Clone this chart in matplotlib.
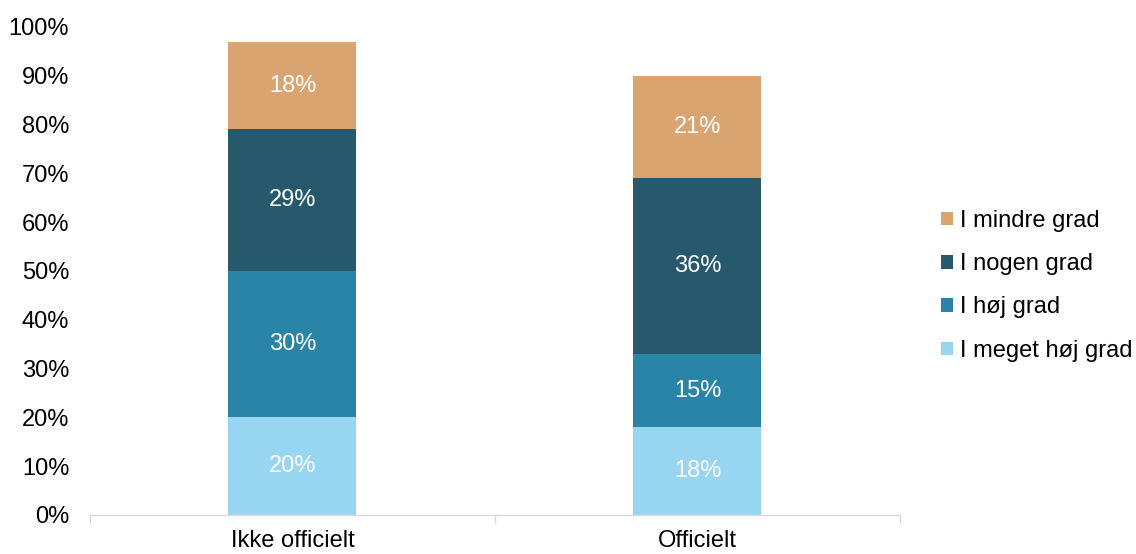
import numpy as np
import matplotlib.pyplot as plt
from matplotlib.patches import Patch

plt.rcParams['font.family'] = ['Liberation Sans', 'DejaVu Sans']

categories = ['Ikke officielt', 'Officielt']
series = ['I meget høj grad', 'I høj grad', 'I nogen grad', 'I mindre grad']
values = {
    'I meget høj grad': [20, 18],
    'I høj grad': [30, 15],
    'I nogen grad': [29, 36],
    'I mindre grad': [18, 21],
}
colors = {
    'I meget høj grad': '#97D5F0',
    'I høj grad': '#2A84A8',
    'I nogen grad': '#27596D',
    'I mindre grad': '#D9A470',
}
fs = 17

fig = plt.figure(figsize=(11.36, 5.54), dpi=100)
ax = fig.add_axes([0.0792, 0.0704, 0.7130, 0.8809])

x = np.arange(len(categories))
bottom = np.zeros(len(categories))
for s in series:
    v = np.array(values[s], dtype=float)
    ax.bar(x, v, 0.316, bottom=bottom, color=colors[s], edgecolor='none')
    for xi, b, val in zip(x, bottom, v):
        ax.text(xi, b + val / 2, f'{val:.0f}%', ha='center', va='center',
                color='white', fontsize=fs)
    bottom += v

ax.set_xlim(-0.5, 1.5)
ax.set_ylim(0, 100)
ax.set_yticks(np.arange(0, 101, 10))
ax.set_yticklabels([f'{t}%' for t in range(0, 101, 10)])
ax.tick_params(axis='y', length=0, labelsize=fs, pad=15)

# category boundaries get the tick marks, names sit on minor ticks
ax.set_xticks([-0.5, 0.5, 1.5])
ax.set_xticklabels([])
ax.tick_params(axis='x', which='major', length=6, color='#D9D9D9', width=1)
ax.set_xticks(x, minor=True)
ax.set_xticklabels(categories, minor=True)
ax.tick_params(axis='x', which='minor', length=0, labelsize=fs, pad=11)

for side in ['top', 'right', 'left']:
    ax.spines[side].set_visible(False)
ax.spines['bottom'].set_color('#D9D9D9')
ax.spines['bottom'].set_linewidth(1)

handles = [Patch(facecolor=colors[s], edgecolor='none', label=s) for s in reversed(series)]
fig.legend(handles=handles, loc='center left', bbox_to_anchor=(0.810, 0.484),
           frameon=False, fontsize=fs, handlelength=0.5, handleheight=0.5,
           handletextpad=0.3, labelspacing=0.9)

fig.savefig('out.png', dpi=100)
